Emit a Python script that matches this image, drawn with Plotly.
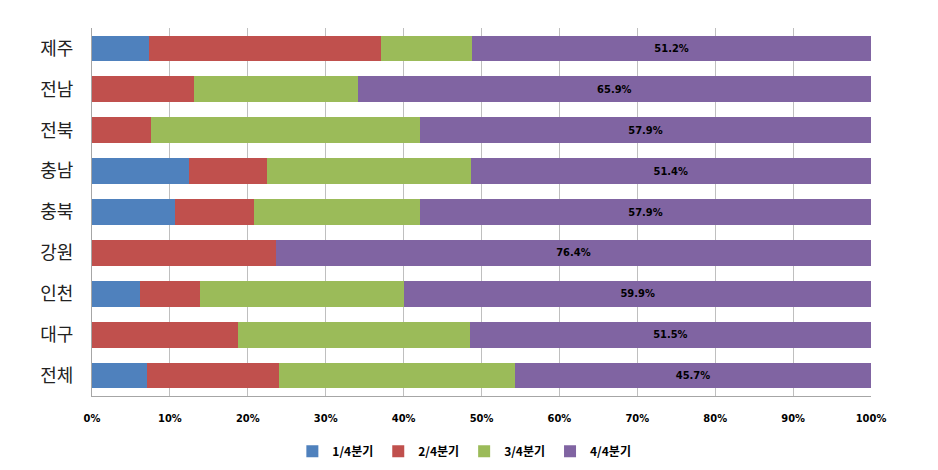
import plotly.graph_objects as go

regions = ["전체", "대구", "인천", "강원", "충북", "충남", "전북", "전남", "제주"]
q1 = [7.0, 0.0, 6.1, 0.0, 10.7, 12.5, 0.0, 0.0, 7.3]
q2 = [17.0, 18.7, 7.7, 23.6, 10.1, 10.0, 7.6, 13.1, 29.8]
q3 = [30.3, 29.8, 26.3, 0.0, 21.3, 26.1, 34.5, 21.0, 11.7]
q4 = [45.7, 51.5, 59.9, 76.4, 57.9, 51.4, 57.9, 65.9, 51.2]
series_names = ["1/4분기", "2/4분기", "3/4분기", "4/4분기"]
colors = ["#4F81BD", "#C0504D", "#9BBB59", "#8064A2"]
x_ticks = [0, 10, 20, 30, 40, 50, 60, 70, 80, 90, 100]

fig = go.Figure()
for name, vals, col in zip(series_names, [q1, q2, q3, q4], colors):
    show_text = name == "4/4분기"
    fig.add_trace(go.Bar(
        y=regions, x=vals, name=name, orientation="h",
        marker=dict(color=col, line=dict(width=0)),
        text=[f"{v:.1f}%" for v in vals] if show_text else None,
        textposition="inside" if show_text else "none",
        insidetextanchor="middle",
        textfont=dict(family="Liberation Sans Narrow, DejaVu Sans Condensed, Arial", size=11, color="black", weight="bold"),
        hoverinfo="skip",
    ))

fig.update_layout(
    barmode="stack",
    bargap=0.37,
    width=938, height=470,
    margin=dict(l=92, r=67, t=28, b=74, autoexpand=False),
    paper_bgcolor="white", plot_bgcolor="white",
    showlegend=True,
    legend=dict(orientation="h", x=0.478, xanchor="center", y=-0.15, yanchor="middle",
                font=dict(family="Liberation Sans Narrow, Noto Sans CJK KR", size=12, color="black", weight="bold"),
                itemwidth=30, traceorder="normal", tracegroupgap=0),
    uniformtext=dict(mode="show", minsize=8),
)
fig.update_xaxes(
    range=[0, 100], tickvals=x_ticks, ticktext=[f"{t}%" for t in x_ticks],
    showgrid=True, gridcolor="#BFBFBF", gridwidth=1,
    showline=True, linecolor="#A6A6A6", linewidth=1, mirror=False,
    ticks="", ticklabelstandoff=12, automargin=False,
    tickfont=dict(family="Liberation Sans Narrow, DejaVu Sans Condensed, Arial", size=11, color="black", weight="bold"),
    zeroline=False, fixedrange=True,
)
fig.update_yaxes(
    showline=True, linecolor="#A6A6A6", linewidth=1,
    ticks="", ticklabelstandoff=14, automargin=False,
    tickfont=dict(family="Noto Sans CJK KR", size=18, color="#222222"),
    fixedrange=True,
)

fig.write_html("out.html")
